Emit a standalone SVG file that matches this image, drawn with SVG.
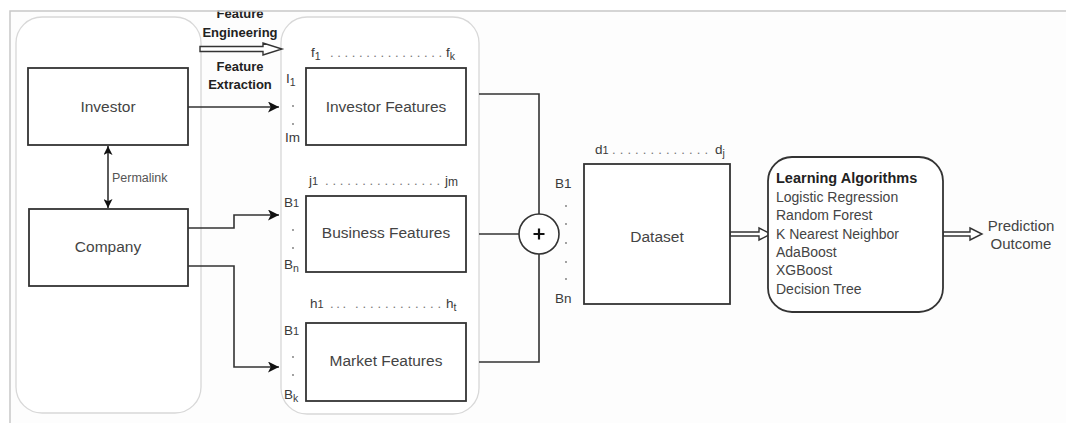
<svg xmlns="http://www.w3.org/2000/svg" width="1066" height="423" viewBox="0 0 1066 423">
<defs>
<style>
text{font-family:"Liberation Sans",Arial,Helvetica,sans-serif;fill:#444}
.lbl{font-size:15.5px;text-anchor:middle}
.hdr{font-size:13px;font-weight:bold;fill:#222;text-anchor:middle}
.idx{font-size:13.5px;fill:#3a3a3a}
.sub{font-size:10.5px}
.dots{font-size:13px;fill:#777}
.alg{font-size:14px;fill:#444}
.box{fill:#fff;stroke:#333;stroke-width:1.8}
.cont{fill:#fff;stroke:#d8d8d8;stroke-width:1.3}
.wire{fill:none;stroke:#333;stroke-width:1.6}
.hollow{fill:#fff;stroke:#333;stroke-width:1.4;stroke-linejoin:miter}
.dot{fill:#777}
</style>
<marker id="ah" viewBox="0 0 10 10" refX="10" refY="5" markerWidth="9" markerHeight="9" markerUnits="userSpaceOnUse" orient="auto-start-reverse">
<path d="M0,0 L10,5 L0,10 L2.5,5 Z" fill="#111"/>
</marker>
<marker id="ah2" viewBox="0 0 10 10" refX="10" refY="5" markerWidth="11" markerHeight="11" markerUnits="userSpaceOnUse" orient="auto-start-reverse">
<path d="M0,0 L10,5 L0,10 L2.5,5 Z" fill="#111"/>
</marker>
</defs>
<rect width="1066" height="423" fill="#fdfdfd"/>
<g id="source-container">
<rect class="cont" x="16" y="17" width="185" height="396" rx="26"/>
</g>
<g id="feature-container">
<rect class="cont" x="281" y="17" width="198" height="397" rx="26"/>
</g>
<g id="connectors">
<path class="wire" d="M188,107 L279,107" marker-end="url(#ah2)"/>
<path class="wire" d="M108,146 L108,208" marker-start="url(#ah)" marker-end="url(#ah)"/>
<path class="wire" d="M188,228 L234,228 L234,215 L279,215" marker-end="url(#ah2)"/>
<path class="wire" d="M188,266 L234,266 L234,367 L279,367" marker-end="url(#ah2)"/>
<path class="wire" d="M479,94 L539,94 L539,214"/>
<path class="wire" d="M479,234 L519,234"/>
<path class="wire" d="M479,362 L539,362 L539,254"/>
<path class="hollow" d="M200,46.5 L263,46.5 L263,43 L282,49 L263,55 L263,51.5 L200,51.5 Z"/>
<path class="hollow" d="M730,232 L759,232 L759,228 L771,234 L759,240 L759,236 L730,236 Z"/>
<path class="hollow" d="M943,232 L970,232 L970,228 L982,234 L970,240 L970,236 L943,236 Z"/>
<text x="112" y="182" style="font-size:12.5px;fill:#555">Permalink</text>
<text class="hdr" x="240" y="18">Feature</text>
<text class="hdr" x="240" y="37">Engineering</text>
<text class="hdr" x="240" y="71">Feature</text>
<text class="hdr" x="240" y="89">Extraction</text>
</g>
<g id="investor">
<rect class="box" x="28" y="68" width="160" height="77"/>
<text class="lbl" x="108" y="112">Investor</text>
</g>
<g id="company">
<rect class="box" x="29" y="209" width="159" height="77"/>
<text class="lbl" x="108" y="252">Company</text>
</g>
<g id="investor-features">
<rect class="box" x="306" y="68" width="160" height="77"/>
<text class="lbl" x="386" y="112">Investor Features</text>
<text class="idx" x="311" y="57">f<tspan class="sub" dy="3">1</tspan></text>
<text class="dots" x="330" y="57" textLength="112" lengthAdjust="spacing">................</text>
<text class="idx" x="446" y="57">f<tspan class="sub" dy="3">k</tspan></text>
<text class="idx" x="286" y="83">I<tspan class="sub" dy="3">1</tspan></text>
<circle class="dot" cx="293" cy="106" r="0.9"/>
<circle class="dot" cx="293" cy="124" r="0.9"/>
<text class="idx" x="285" y="142">Im</text>
</g>
<g id="business-features">
<rect class="box" x="306" y="196" width="160" height="76"/>
<text class="lbl" x="386" y="238">Business Features</text>
<text class="idx" x="309" y="185">j<tspan style="font-size:11px">1</tspan></text>
<text class="dots" x="325" y="185" textLength="115" lengthAdjust="spacing">................</text>
<text class="idx" x="445" y="185">j<tspan style="font-size:12px" dy="1">m</tspan></text>
<text class="idx" x="284" y="207">B<tspan style="font-size:11px">1</tspan></text>
<circle class="dot" cx="293" cy="230" r="0.9"/>
<circle class="dot" cx="293" cy="248" r="0.9"/>
<text class="idx" x="284" y="269">B<tspan class="sub" dy="3">n</tspan></text>
</g>
<g id="market-features">
<rect class="box" x="306" y="323" width="160" height="78"/>
<text class="lbl" x="386" y="366">Market Features</text>
<text class="idx" x="310" y="308">h<tspan style="font-size:11px">1</tspan></text>
<text class="dots" x="330" y="308" textLength="16" lengthAdjust="spacing">...</text>
<text class="dots" x="355" y="308" textLength="86" lengthAdjust="spacing">............</text>
<text class="idx" x="446" y="308">h<tspan class="sub" dy="3">t</tspan></text>
<text class="idx" x="284" y="335">B<tspan style="font-size:11px">1</tspan></text>
<circle class="dot" cx="293" cy="357" r="0.9"/>
<circle class="dot" cx="293" cy="375" r="0.9"/>
<text class="idx" x="284" y="399">B<tspan class="sub" dy="3">k</tspan></text>
</g>
<g id="combine">
<circle cx="539" cy="234" r="20" fill="#fff" stroke="#333" stroke-width="1.6"/>
<path d="M533.5,234 L544.5,234 M539,228.5 L539,239.5" stroke="#111" stroke-width="2.2"/>
</g>
<g id="dataset">
<rect class="box" x="584" y="164" width="146" height="140"/>
<text class="lbl" x="657" y="242">Dataset</text>
<text class="idx" x="595" y="154">d<tspan style="font-size:11px">1</tspan></text>
<text class="dots" x="612" y="154" textLength="96" lengthAdjust="spacing">.............</text>
<text class="idx" x="715" y="154">d<tspan class="sub" dy="3">j</tspan></text>
<text class="idx" x="555" y="188">B1</text>
<circle class="dot" cx="566" cy="206" r="0.9"/>
<circle class="dot" cx="566" cy="224" r="0.9"/>
<circle class="dot" cx="566" cy="243" r="0.9"/>
<circle class="dot" cx="566" cy="262" r="0.9"/>
<circle class="dot" cx="566" cy="279" r="0.9"/>
<text class="idx" x="555" y="303">Bn</text>
</g>
<g id="learning-algorithms">
<rect x="768" y="157" width="175" height="155" rx="24" fill="#fff" stroke="#333" stroke-width="1.8"/>
<text x="776" y="183" style="font-size:14.5px;font-weight:bold;fill:#222">Learning Algorithms</text>
<text class="alg" x="776" y="201.5">Logistic Regression</text>
<text class="alg" x="776" y="220">Random Forest</text>
<text class="alg" x="776" y="238.5">K Nearest Neighbor</text>
<text class="alg" x="776" y="256.5">AdaBoost</text>
<text class="alg" x="776" y="275">XGBoost</text>
<text class="alg" x="776" y="293.5">Decision Tree</text>
</g>
<g id="prediction-outcome">
<text class="lbl" x="1021" y="231" style="font-size:15px">Prediction</text>
<text class="lbl" x="1021" y="249" style="font-size:15px">Outcome</text>
</g>
<g id="frame">
<rect x="0" y="0" width="1066" height="10.5" fill="#fff"/>
<rect x="0" y="0" width="9.5" height="423" fill="#fff"/>
<path d="M10,423 L10,11 L1066,11" fill="none" stroke="#c8c8c8" stroke-width="1.5"/>
</g>
</svg>
